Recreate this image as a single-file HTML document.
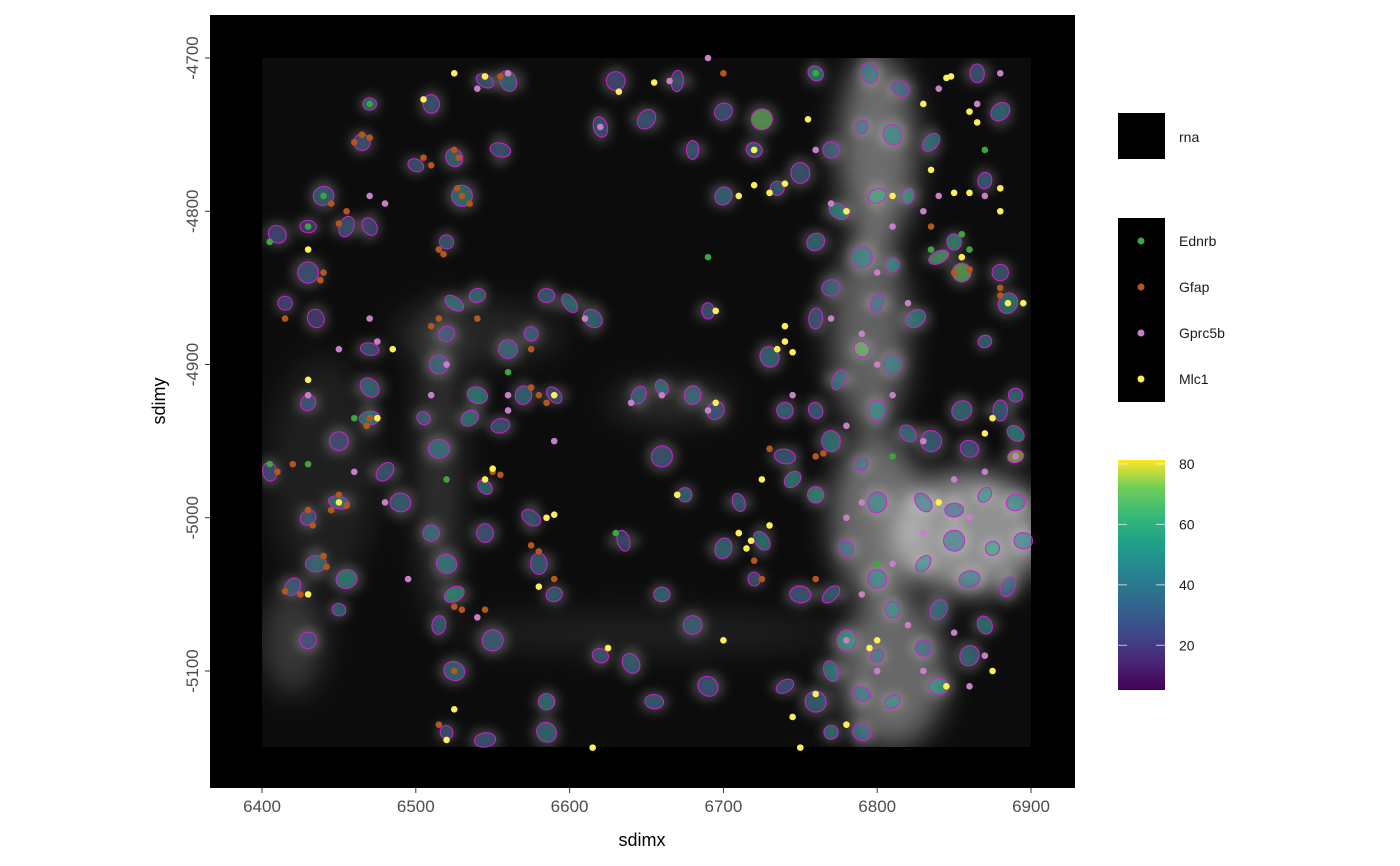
<!DOCTYPE html>
<html><head><meta charset="utf-8">
<style>
body{margin:0;background:#fff;}
svg{display:block;font-family:"Liberation Sans","DejaVu Sans",sans-serif;}
</style></head>
<body>
<svg id="chart" width="1400" height="866" viewBox="0 0 1400 866">
<defs>
<filter id="blur" x="-50%" y="-50%" width="200%" height="200%"><feGaussianBlur stdDeviation="14"/></filter>
<filter id="blur2" x="-50%" y="-50%" width="200%" height="200%"><feGaussianBlur stdDeviation="5"/></filter>
<clipPath id="imgclip"><rect x="262" y="58" width="769" height="689"/></clipPath>
<linearGradient id="viridis" x1="0" y1="1" x2="0" y2="0">
<stop offset="0" stop-color="#440154"/><stop offset="0.13" stop-color="#482878"/><stop offset="0.25" stop-color="#3e4989"/>
<stop offset="0.38" stop-color="#31688e"/><stop offset="0.5" stop-color="#26828e"/><stop offset="0.63" stop-color="#1f9e89"/>
<stop offset="0.75" stop-color="#35b779"/><stop offset="0.88" stop-color="#6ece58"/><stop offset="1" stop-color="#fde725"/>
</linearGradient>
</defs>
<rect x="210" y="15" width="865" height="773" fill="#000"/>
<g clip-path="url(#imgclip)">
<rect x="262" y="58" width="769" height="689" fill="#0c0c0c"/>
<g id="glow" filter="url(#blur)"></g>
<g id="cellglow" filter="url(#blur2)"></g>
</g>
<g id="cells"></g>
<g id="points"></g>
<g id="axes"></g>
<text x="642" y="846" font-size="18" text-anchor="middle" fill="#000">sdimx</text>
<text transform="translate(165,401) rotate(-90)" font-size="18" text-anchor="middle" fill="#000">sdimy</text>
<g>
<rect x="1118" y="113" width="47" height="46" fill="#000"/>
<text x="1179" y="142" font-size="14" fill="#1a1a1a">rna</text>
<rect x="1118" y="218" width="47" height="184" fill="#000"/>
<g id="genelegend"></g>
<rect x="1118" y="460" width="47" height="230" fill="url(#viridis)"/>
<g id="cbticks"></g>
</g>
<script>
const xTicks=[6400,6500,6600,6700,6800,6900];
const yTicks=[-4700,-4800,-4900,-5000,-5100];
const cbTicks=[20,40,60,80];
const genes=['Ednrb','Gfap','Gprc5b','Mlc1'];
const geneColors=['#3fa33f','#b5561e','#c77fc7','#ffee55'];
// cells: [x, y, value]
const cellData=[[6470,-4730,45],[6465,-4755,30],[6440,-4790,35],[6455,-4810,30],[6470,-4810,25],[6430,-4810,20],[6410,-4815,25],[6430,-4840,30],[6415,-4860,25],[6435,-4870,20],[6470,-4890,30],[6470,-4915,40],[6470,-4935,50],[6430,-4925,30],[6450,-4950,25],[6450,-4990,45],[6430,-5000,30],[6435,-5030,40],[6420,-5045,35],[6455,-5040,50],[6450,-5060,40],[6430,-5080,25],[6490,-4990,35],[6480,-4970,30],[6405,-4970,25],[6500,-4770,30],[6525,-4765,40],[6530,-4790,45],[6520,-4820,35],[6510,-4730,30],[6545,-4715,30],[6560,-4715,40],[6555,-4760,30],[6520,-4880,30],[6515,-4900,35],[6525,-4860,45],[6540,-4855,40],[6540,-4920,50],[6535,-4935,45],[6515,-4955,40],[6505,-4935,35],[6510,-5010,40],[6520,-5030,45],[6525,-5050,55],[6515,-5070,35],[6545,-4980,40],[6545,-5010,30],[6550,-5080,35],[6575,-4880,35],[6570,-4920,40],[6590,-4920,30],[6580,-5030,35],[6575,-5000,30],[6590,-5050,35],[6560,-4890,40],[6600,-4860,45],[6585,-4855,35],[6615,-4870,40],[6555,-4940,30],[6525,-5100,40],[6520,-5140,30],[6585,-5120,45],[6585,-5140,40],[6545,-5145,30],
[6645,-4920,35],[6660,-4915,45],[6680,-4920,40],[6660,-4960,30],[6675,-4985,40],[6695,-4930,30],[6710,-4990,35],[6700,-5020,40],[6725,-5015,45],[6660,-5050,40],[6680,-5070,35],[6635,-5015,25],[6620,-5090,30],[6640,-5095,35],[6655,-5120,35],[6690,-5110,30],[6720,-5040,30],[6740,-4930,40],[6730,-4895,40],[6740,-4960,30],[6745,-4975,50],[6690,-4865,30],[6700,-4790,40],[6725,-4740,70],[6735,-4785,35],[6700,-4735,30],[6680,-4760,35],[6650,-4740,30],[6620,-4745,30],[6720,-4760,35],[6630,-4715,25],[6670,-4715,30],
[6760,-4710,50],[6795,-4710,40],[6815,-4720,35],[6810,-4750,45],[6790,-4745,40],[6770,-4760,35],[6750,-4775,30],[6775,-4800,50],[6800,-4790,60],[6820,-4790,55],[6760,-4820,40],[6790,-4830,45],[6810,-4835,50],[6770,-4850,35],[6800,-4860,40],[6825,-4870,45],[6760,-4870,30],[6790,-4890,70],[6810,-4900,45],[6775,-4910,40],[6760,-4930,35],[6800,-4930,50],[6820,-4945,40],[6770,-4950,45],[6790,-4965,40],[6760,-4985,55],[6800,-4990,45],[6830,-4990,40],[6850,-4995,35],[6870,-4985,50],[6890,-4990,45],[6850,-5015,40],[6875,-5020,55],[6895,-5015,45],[6830,-5030,50],[6860,-5040,40],[6885,-5045,35],[6780,-5020,40],[6800,-5040,45],[6770,-5050,35],[6810,-5060,50],[6840,-5060,40],[6870,-5070,45],[6780,-5080,55],[6800,-5090,40],[6830,-5085,35],[6860,-5090,40],[6770,-5100,45],[6790,-5115,40],[6810,-5120,50],[6840,-5110,55],[6760,-5120,35],[6770,-5140,45],[6790,-5140,40],[6740,-5110,30],[6750,-5050,30],
[6835,-4755,45],[6850,-4820,55],[6855,-4840,70],[6840,-4830,65],[6870,-4780,35],[6880,-4735,40],[6865,-4710,30],[6885,-4860,45],[6870,-4885,40],[6880,-4840,30],[6855,-4930,40],[6880,-4930,35],[6890,-4945,50],[6890,-4960,75],[6860,-4955,30],[6835,-4950,35],[6890,-4920,40]];
const ednrbPts=[[6470,-4730],[6430,-4810],[6405,-4820],[6440,-4790],[6690,-4830],[6630,-5010],[6835,-4825],[6855,-4815],[6860,-4825],[6870,-4760],[6560,-4905],[6405,-4965],[6430,-4965],[6810,-4960],[6760,-4710],[6520,-4975],[6460,-4935],[6800,-5030]];
const gfapPts=[[6545,-4712],[6555,-4712],[6465,-4750],[6470,-4752],[6460,-4755],[6455,-4800],[6445,-4795],[6450,-4808],[6525,-4760],[6528,-4765],[6530,-4790],[6535,-4795],[6527,-4785],[6515,-4825],[6518,-4828],[6505,-4765],[6510,-4770],[6440,-4840],[6438,-4845],[6470,-4935],[6468,-4940],[6450,-4985],[6455,-4992],[6445,-4995],[6430,-4995],[6433,-5005],[6440,-5025],[6442,-5032],[6425,-5050],[6415,-5048],[6510,-4875],[6515,-4870],[6540,-4870],[6575,-4890],[6580,-4920],[6585,-4925],[6575,-4915],[6550,-4970],[6555,-4972],[6530,-5060],[6525,-5058],[6545,-5060],[6590,-5040],[6575,-5018],[6580,-5022],[6515,-5135],[6525,-5100],[6855,-4830],[6850,-4840],[6860,-4838],[6835,-4810],[6880,-4850],[6880,-4855],[6760,-4960],[6765,-4958],[6730,-4955],[6720,-5028],[6725,-5040],[6760,-5040],[6700,-4710],[6415,-4870],[6420,-4965],[6410,-4970]];
const gprc5bPts=[[6470,-4870],[6475,-4885],[6450,-4890],[6430,-4920],[6480,-4990],[6460,-4970],[6560,-4710],[6540,-4720],[6470,-4790],[6480,-4795],[6690,-4700],[6620,-4745],[6665,-4715],[6760,-4760],[6770,-4795],[6780,-4800],[6800,-4840],[6810,-4810],[6830,-4800],[6840,-4790],[6820,-4860],[6790,-4880],[6770,-4870],[6800,-4900],[6810,-4920],[6780,-4940],[6830,-4950],[6850,-4975],[6870,-4970],[6890,-4960],[6860,-5000],[6830,-5010],[6810,-5030],[6790,-5050],[6820,-5070],[6850,-5075],[6870,-5090],[6780,-5080],[6800,-5100],[6830,-5100],[6860,-5110],[6790,-4990],[6780,-5000],[6640,-4925],[6660,-4920],[6690,-4930],[6520,-4900],[6510,-4920],[6495,-5040],[6540,-5065],[6560,-4920],[6590,-4950],[6610,-4870],[6560,-4930],[6880,-4710],[6865,-4730],[6840,-4720],[6870,-4790],[6745,-4920],[6710,-5010]];
const mlc1Pts=[[6505,-4727],[6525,-4710],[6545,-4712],[6632,-4722],[6655,-4716],[6720,-4760],[6755,-4740],[6720,-4783],[6730,-4788],[6710,-4790],[6740,-4782],[6780,-4800],[6810,-4790],[6835,-4773],[6845,-4713],[6848,-4712],[6830,-4730],[6860,-4735],[6865,-4742],[6850,-4788],[6860,-4788],[6880,-4785],[6880,-4800],[6885,-4860],[6855,-4830],[6740,-4885],[6735,-4890],[6745,-4892],[6740,-4875],[6695,-4865],[6695,-4925],[6670,-4985],[6725,-4975],[6710,-5010],[6718,-5015],[6715,-5020],[6730,-5005],[6585,-5000],[6590,-4998],[6615,-5150],[6625,-5085],[6700,-5080],[6760,-5115],[6780,-5135],[6745,-5130],[6750,-5150],[6795,-5085],[6800,-5080],[6845,-5110],[6875,-5100],[6545,-4975],[6550,-4968],[6590,-4920],[6580,-5045],[6525,-5125],[6520,-5145],[6430,-5050],[6430,-4910],[6430,-4825],[6485,-4890],[6475,-4935],[6450,-4990],[6895,-4860],[6870,-4945],[6875,-4935],[6840,-4990]];
// background brightness regions [x, y, rx, ry, opacity] (image intensity)
const bgRegions=[[6800,-4760,25,65,0.4],[6795,-4880,25,65,0.35],[6800,-5000,30,55,0.4],[6860,-5010,50,40,0.55],[6810,-5100,35,50,0.38],[6515,-4960,14,105,0.15],[6420,-5080,20,35,0.18],[6650,-5075,125,14,0.08],[6665,-4925,40,14,0.12],[6540,-4880,55,20,0.1],[6440,-4970,35,75,0.08]];
const NS='http://www.w3.org/2000/svg';
const sx=x=>262+(x-6400)*1.538;
const sy=y=>58+(-4700-y)*1.5325;
function viridis(v){const t=Math.max(0,Math.min(1,(v-5)/76));const c=[[68,1,84],[72,40,120],[62,73,137],[49,104,142],[38,130,142],[31,158,137],[53,183,121],[110,206,88],[253,231,37]];const f=t*8,i=Math.min(7,Math.floor(f)),r=f-i;const a=c[i],b=c[i+1];return 'rgb('+a.map((q,k)=>Math.round(q+(b[k]-q)*r)).join(',')+')';}
function mk(tag,attrs,parent){const e=document.createElementNS(NS,tag);for(const k in attrs)e.setAttribute(k,attrs[k]);parent.appendChild(e);return e;}
const glow=document.getElementById('glow');
bgRegions.forEach(r=>{const e=mk('ellipse',{cx:sx(r[0]),cy:sy(r[1]),rx:r[2]*1.538,ry:r[3]*1.53,fill:'#fff','fill-opacity':r[4]},glow);

});
const cg=document.getElementById('cellglow');
const cells=document.getElementById('cells');
cellData.forEach((c,i)=>{const rx=4.5+(i%4)*0.8,ry=4+((i*7)%5)*0.7;
mk('ellipse',{cx:sx(c[0]),cy:sy(c[1]),rx:rx*2.4,ry:ry*2.4,fill:'#fff','fill-opacity':0.2},cg);
const e=mk('ellipse',{cx:sx(c[0]),cy:sy(c[1]),rx:rx*1.538,ry:ry*1.53,fill:viridis(c[2]),'fill-opacity':0.55,stroke:'#d21fd2','stroke-width':1,transform:'rotate('+((i*37)%180)+' '+sx(c[0])+' '+sy(c[1])+')'},cells);

});
const pts=document.getElementById('points');
[ednrbPts,gfapPts,gprc5bPts,mlc1Pts].forEach((arr,g)=>{arr.forEach(p=>{const e=mk('circle',{cx:sx(p[0]),cy:sy(p[1]),r:3.3,fill:geneColors[g]},pts);

});});
const ax=document.getElementById('axes');
xTicks.forEach(t=>{mk('line',{x1:sx(t),x2:sx(t),y1:788,y2:793,stroke:'#333','stroke-width':1},ax);
const e=mk('text',{x:sx(t),y:812,'font-size':17,'text-anchor':'middle',fill:'#4d4d4d'},ax);e.textContent=t;

});
yTicks.forEach(t=>{mk('line',{x1:205,x2:210,y1:sy(t),y2:sy(t),stroke:'#333','stroke-width':1},ax);
const e=mk('text',{x:0,y:0,'font-size':17,'text-anchor':'middle',fill:'#4d4d4d',transform:'translate(198,'+sy(t)+') rotate(-90)'},ax);e.textContent=t;

});
const gl=document.getElementById('genelegend');
genes.forEach((g,i)=>{const y=241+i*46;mk('circle',{cx:1141,cy:y,r:3.5,fill:geneColors[i]},gl);
const e=mk('text',{x:1179,y:y+5,'font-size':14,fill:'#1a1a1a'},gl);e.textContent=g;

});
const cb=document.getElementById('cbticks');
const cy=v=>690-(v-5.2)*(230/76.1);
cbTicks.forEach(v=>{const y=cy(v);
mk('line',{x1:1118,x2:1127,y1:y,y2:y,stroke:'#fff','stroke-opacity':0.7},cb);
mk('line',{x1:1156,x2:1165,y1:y,y2:y,stroke:'#fff','stroke-opacity':0.7},cb);
const e=mk('text',{x:1179,y:y+5,'font-size':14,fill:'#1a1a1a'},cb);e.textContent=v;

});
</script>
</svg>
</body></html>
